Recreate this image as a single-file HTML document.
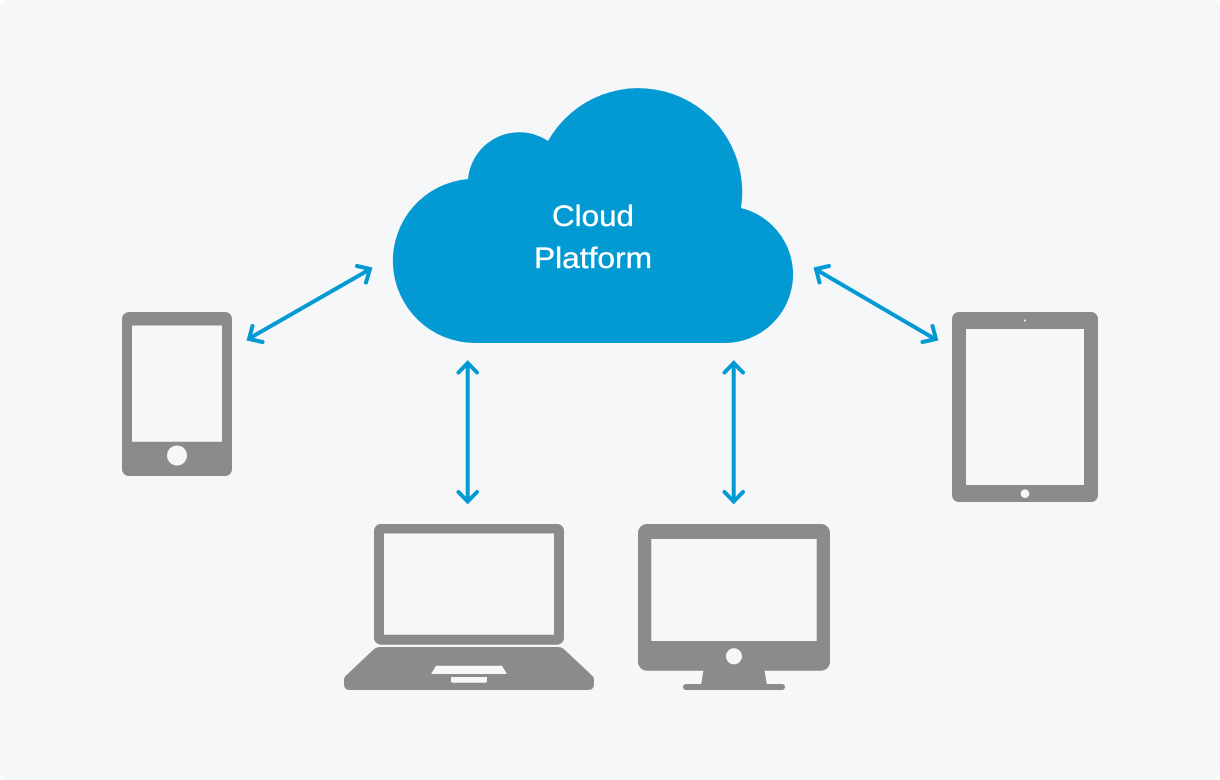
<!DOCTYPE html>
<html>
<head>
<meta charset="utf-8">
<title>Cloud Platform</title>
<style>
html,body{margin:0;padding:0;width:1220px;height:780px;background:#fff;overflow:hidden}
svg{display:block}
text{font-family:"Liberation Sans",sans-serif;fill:#fff;stroke:#fff;stroke-width:.35px;text-anchor:middle}
</style>
</head>
<body>
<svg width="1220" height="780" viewBox="0 0 1220 780" xmlns="http://www.w3.org/2000/svg">
<rect x="0" y="0" width="1220" height="780" rx="9" fill="#f6f7f9"/>

<!-- Cloud -->
<path d="M475.2 343A82.15 82.15 0 0 1 468 179A51.5 51.5 0 0 1 548 141A103.8 103.8 0 0 1 741 208A68.5 68.5 0 0 1 724.5 343Z" fill="#0399d3"/>
<text x="593" y="226" font-size="30" textLength="82" lengthAdjust="spacingAndGlyphs">Cloud</text>
<text x="593" y="268" font-size="30" textLength="118" lengthAdjust="spacingAndGlyphs">Platform</text>

<!-- Arrows -->
<g fill="none" stroke="#0399d3" stroke-width="4" stroke-linecap="round" stroke-linejoin="miter">
<path d="M250 338L369.5 269.5"/>
<path d="M357 266L370 269L366 282.5"/>
<path d="M252.5 326L249 339L262.5 342"/>
<path d="M816 269.5L935 339"/>
<path d="M829 266L816 269L819.5 282.5"/>
<path d="M922.5 342L936 339L932.5 326"/>
<path d="M467.7 364V501"/>
<path d="M458.5 372.5L467.7 363L477 372.5"/>
<path d="M458.5 492L467.7 501.5L477 492"/>
<path d="M733.7 364V501"/>
<path d="M724.5 372.5L733.7 363L743 372.5"/>
<path d="M724.5 492L733.7 501.5L743 492"/>
</g>

<g fill="#8b8b8b">
<!-- Phone -->
<path fill-rule="evenodd" d="M129 312H225A7 7 0 0 1 232 319V469A7 7 0 0 1 225 476H129A7 7 0 0 1 122 469V319A7 7 0 0 1 129 312ZM132 325.5V441.7H222V325.5Z"/>
<!-- Tablet -->
<path fill-rule="evenodd" d="M959 312H1091A7 7 0 0 1 1098 319V495A7 7 0 0 1 1091 502H959A7 7 0 0 1 952 495V319A7 7 0 0 1 959 312ZM966 329V485H1084V329Z"/>
<!-- Laptop lid -->
<path fill-rule="evenodd" d="M381 524H557A7 7 0 0 1 564 531V637.7A7 7 0 0 1 557 644.7H381A7 7 0 0 1 374 637.7V531A7 7 0 0 1 381 524ZM384 533.5V634.7H554V533.5Z"/>
<!-- Laptop base -->
<path d="M380 647H558Q562 647 565 650L592 675.5Q594 677 594 680V684Q594 690 588 690H350Q344 690 344 684V680Q344 677 346 675.5L373 650Q376 647 380 647Z"/>
<!-- Monitor -->
<path fill-rule="evenodd" d="M647 524H821A9 9 0 0 1 830 533V661.7A9 9 0 0 1 821 670.7H647A9 9 0 0 1 638 661.7V533A9 9 0 0 1 647 524ZM651.3 539V641H816.7V539Z"/>
<path d="M703.5 670H764.5L766.8 684H782A3 3 0 0 1 782 690H686A3 3 0 0 1 686 684H701.2Z"/>
</g>

<g fill="#f6f7f9">
<circle cx="177" cy="455.5" r="10"/>
<circle cx="1025" cy="493.7" r="4.3"/>
<circle cx="1025" cy="320.5" r="1"/>
<path d="M436 665.7H502L507 674H431Z"/>
<path d="M451 677H487V680.7Q487 682.7 485 682.7H453Q451 682.7 451 680.7Z"/>
<circle cx="734" cy="656.3" r="8"/>
</g>
</svg>
</body>
</html>
